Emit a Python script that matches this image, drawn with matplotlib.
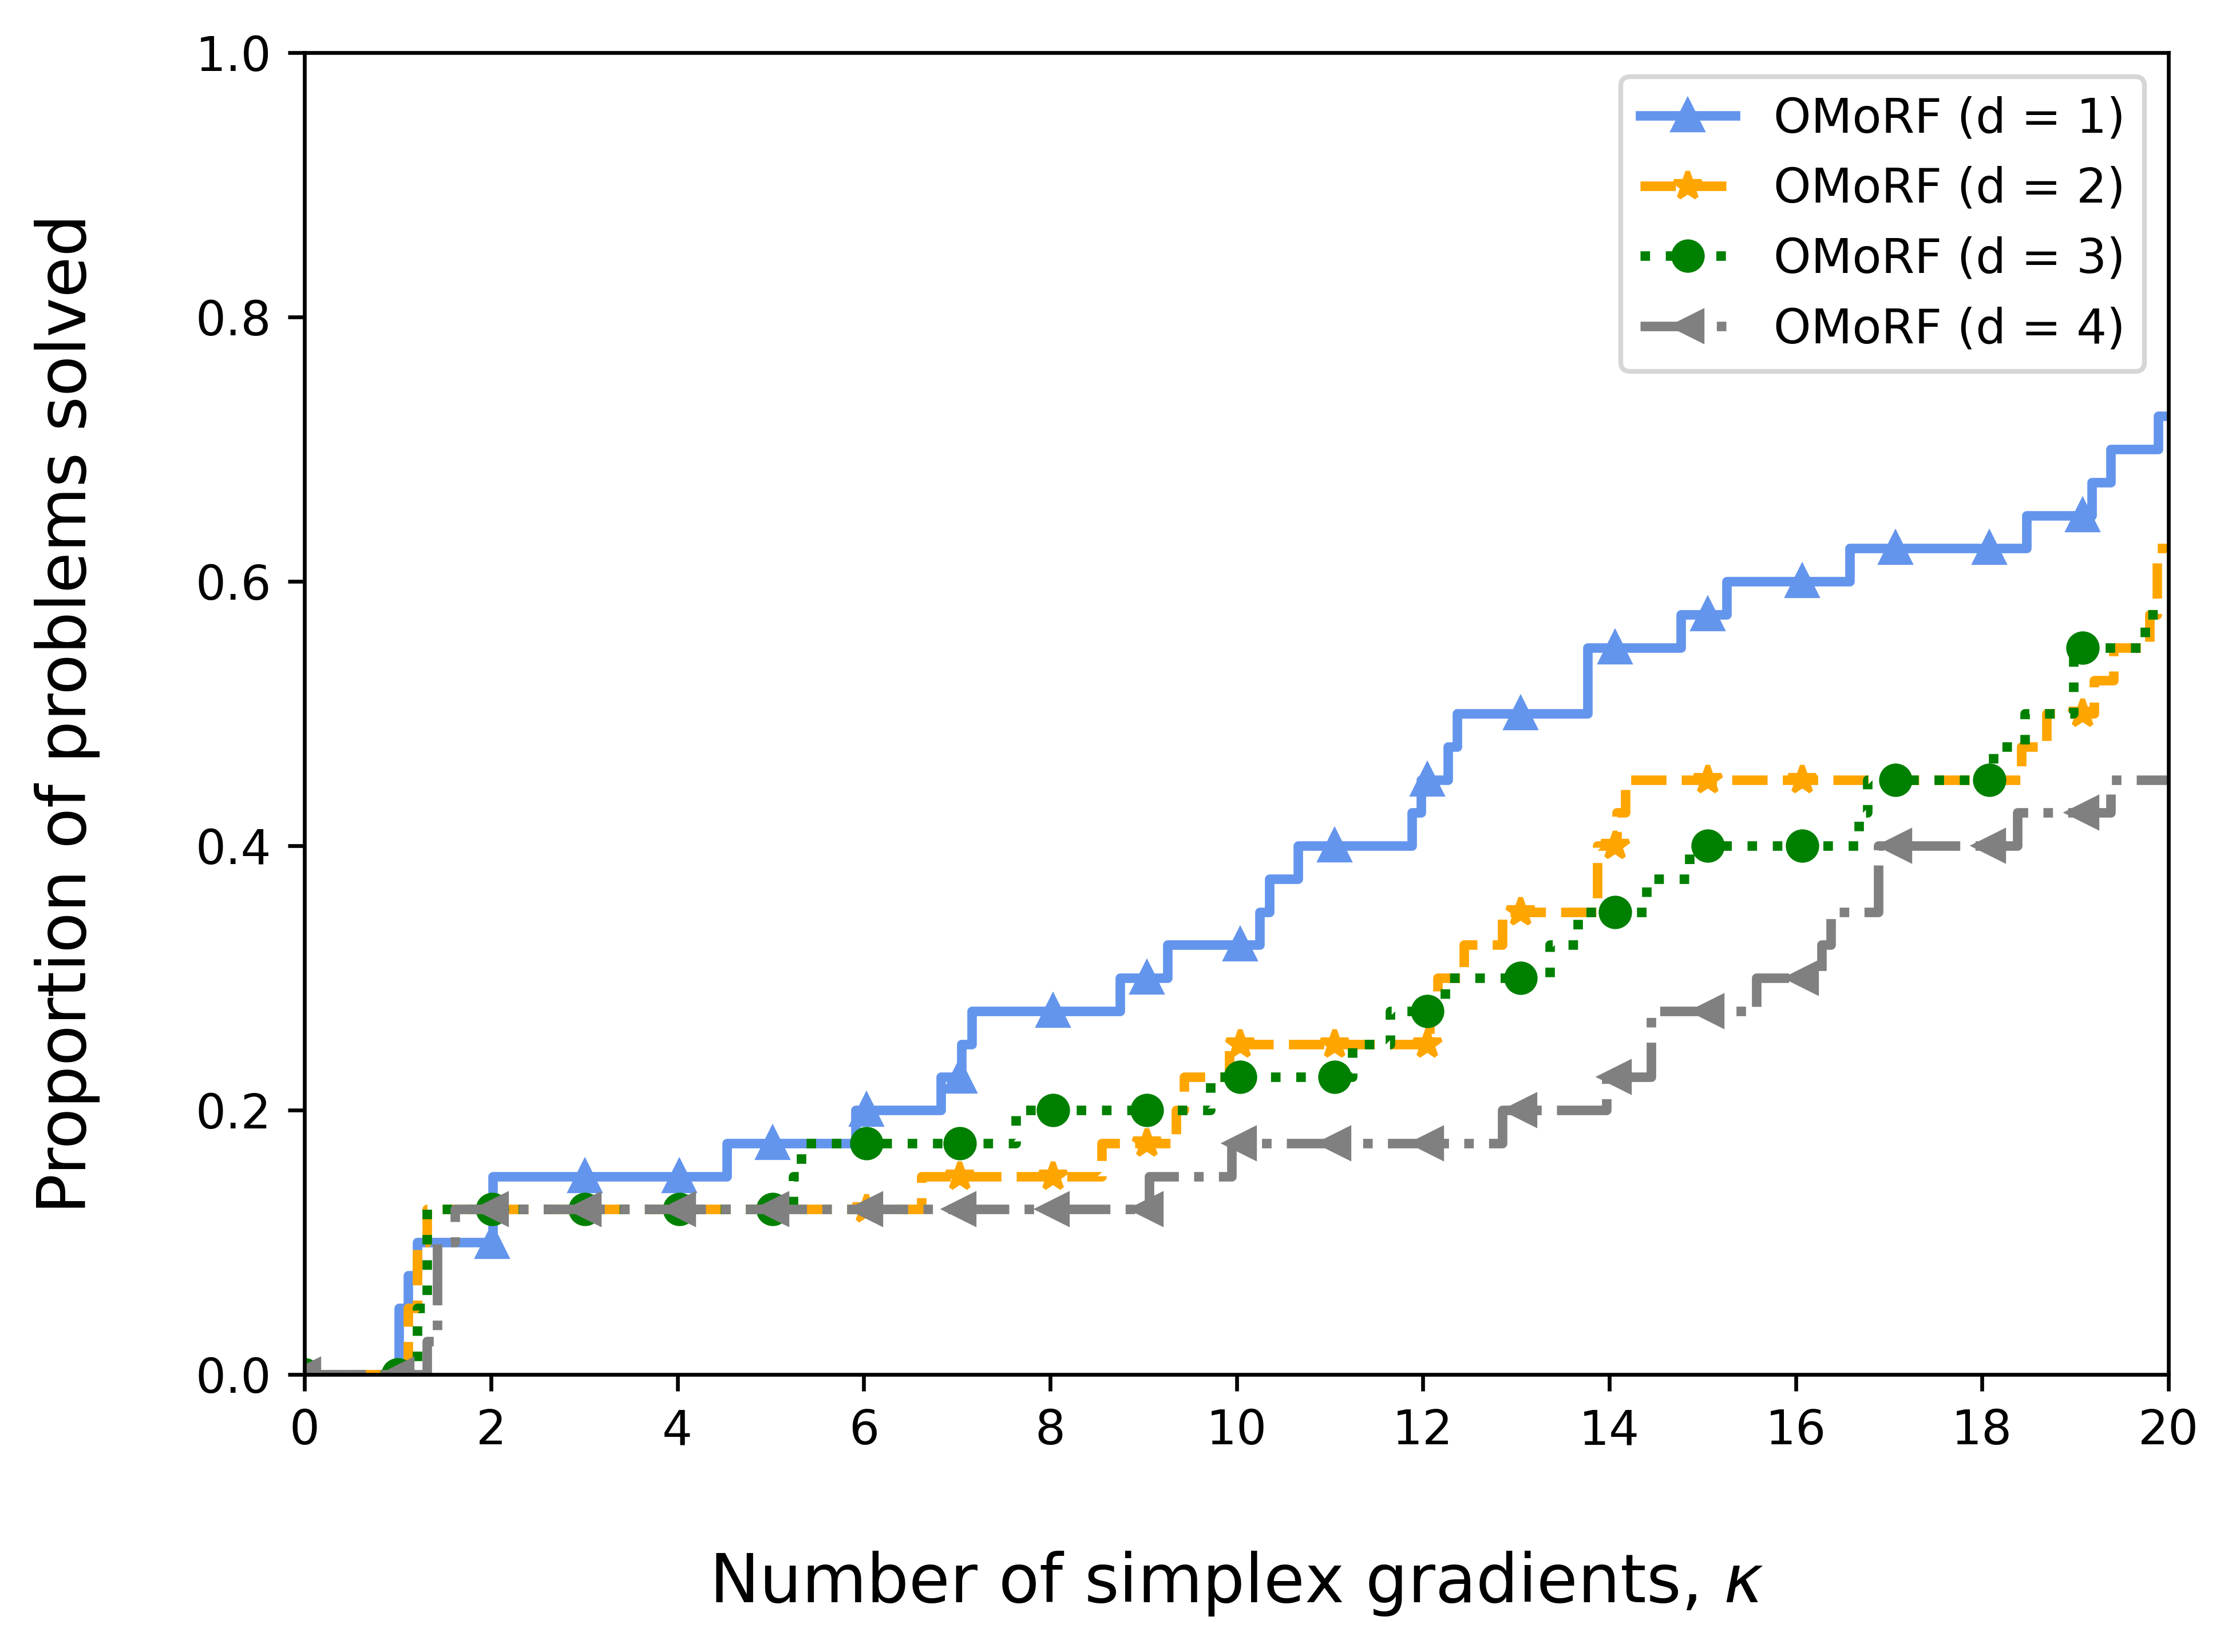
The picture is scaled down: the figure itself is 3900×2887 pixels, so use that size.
import matplotlib
matplotlib.use("Agg")
import matplotlib.pyplot as plt

# marker positions (same grid for every curve)
kappa_marks = [0.0, 1.0, 2.01, 3.01, 4.02, 5.02, 6.03, 7.03, 8.03, 9.04,
               10.04, 11.05, 12.05, 13.05, 14.06, 15.06, 16.07, 17.07, 18.08, 19.08]

# d = 1
d1_kappa = [0, 1.01, 1.11, 1.205, 2.02, 4.53, 5.91, 6.83, 7.05, 7.16, 8.75, 9.26,
            10.25, 10.35, 10.66, 11.88, 11.98, 12.27, 12.37, 13.77, 14.77, 15.26,
            16.58, 18.48, 19.18, 19.38, 19.89, 20]
d1_prop = [0, 0.05, 0.075, 0.1, 0.15, 0.175, 0.2, 0.225, 0.25, 0.275, 0.3, 0.325,
           0.35, 0.375, 0.4, 0.425, 0.45, 0.475, 0.5, 0.55, 0.575, 0.6,
           0.625, 0.65, 0.675, 0.7, 0.725, 0.725]
d1_marks = [0, 0, 0.1, 0.15, 0.15, 0.175, 0.2, 0.225, 0.275, 0.3,
            0.325, 0.4, 0.45, 0.5, 0.55, 0.575, 0.6, 0.625, 0.625, 0.65]

# d = 2
d2_kappa = [0, 1.11, 1.21, 1.31, 6.62, 8.55, 9.35, 9.44, 9.92, 12.07, 12.16, 12.44,
            12.85, 13.87, 14.08, 14.17, 18.42, 18.69, 19.2, 19.41, 19.8, 19.88, 20]
d2_prop = [0, 0.05, 0.1, 0.125, 0.15, 0.175, 0.2, 0.225, 0.25, 0.275, 0.3, 0.325,
           0.35, 0.4, 0.425, 0.45, 0.475, 0.5, 0.525, 0.55, 0.575, 0.625, 0.625]
d2_marks = [0, 0, 0.125, 0.125, 0.125, 0.125, 0.125, 0.15, 0.15, 0.175,
            0.25, 0.25, 0.25, 0.35, 0.4, 0.45, 0.45, 0.45, 0.45, 0.5]

# d = 3
d3_kappa = [0, 1.21, 1.31, 5.24, 5.33, 7.63, 9.72, 11.24, 11.65, 12.24, 13.36, 13.66,
            14.4, 14.86, 16.68, 16.77, 18.12, 18.46, 18.98, 19.75, 20]
d3_prop = [0, 0.05, 0.125, 0.15, 0.175, 0.2, 0.225, 0.25, 0.275, 0.3, 0.325, 0.35,
           0.375, 0.4, 0.425, 0.45, 0.475, 0.5, 0.55, 0.575, 0.575]
d3_marks = [0, 0, 0.125, 0.125, 0.125, 0.125, 0.175, 0.175, 0.2, 0.2,
            0.225, 0.225, 0.275, 0.3, 0.35, 0.4, 0.4, 0.45, 0.45, 0.55]

# d = 4
d4_kappa = [0, 1.31, 1.42, 1.615, 9.06, 9.95, 12.85, 13.97, 14.45, 15.58, 16.28,
            16.38, 16.89, 18.38, 19.38, 20]
d4_prop = [0, 0.025, 0.1, 0.125, 0.15, 0.175, 0.2, 0.225, 0.275, 0.3, 0.325,
           0.35, 0.4, 0.425, 0.45, 0.45]
d4_marks = [0, 0, 0.125, 0.125, 0.125, 0.125, 0.125, 0.125, 0.125, 0.125,
            0.175, 0.175, 0.175, 0.2, 0.225, 0.275, 0.3, 0.4, 0.4, 0.425]

labels = ["OMoRF (d = 1)", "OMoRF (d = 2)", "OMoRF (d = 3)", "OMoRF (d = 4)"]
colors = ["cornflowerblue", "orange", "green", "gray"]
styles = ["-", "--", ":", "-."]
markers = ["^", "*", "o", "<"]
curves = [(d1_kappa, d1_prop, d1_marks), (d2_kappa, d2_prop, d2_marks),
          (d3_kappa, d3_prop, d3_marks), (d4_kappa, d4_prop, d4_marks)]

fig = plt.figure(figsize=(6.5, 2887 / 600), dpi=600)
ax = fig.add_axes([0.1365, 0.168, 0.835, 0.8001])

handles = []
for i, (xs, ys, ym) in enumerate(curves):
    z = 2 + 0.1 * i
    line, = ax.step(xs, ys, where="post", color=colors[i], linestyle=styles[i],
                    linewidth=2, zorder=z)
    pts, = ax.plot(kappa_marks, ym, linestyle="none", marker=markers[i],
                   color=colors[i], zorder=z + 0.05)
    handles.append((line, pts))

ax.set_xlim(0, 20)
ax.set_ylim(0, 1)
ax.set_xticks(range(0, 21, 2))
ax.set_xlabel(r"Number of simplex gradients, $\kappa$", fontsize=14, labelpad=20)
ax.set_ylabel("Proportion of problems solved", fontsize=14, labelpad=20)
ax.legend(handles, labels, loc="upper right")

fig.savefig("out.png", dpi=600)
